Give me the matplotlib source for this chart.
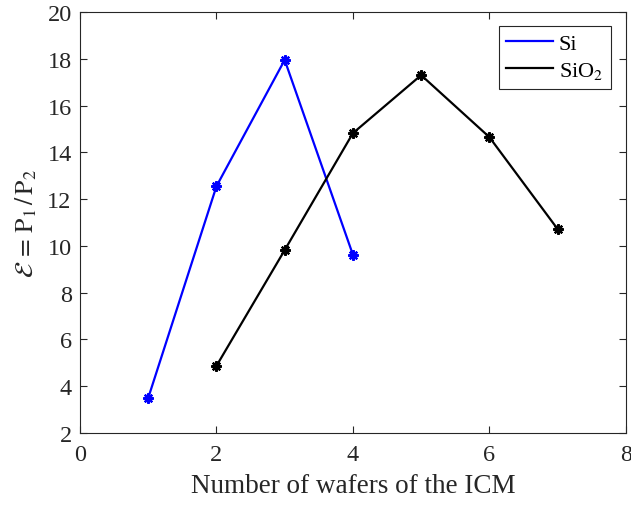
import matplotlib
matplotlib.use("Agg")
import matplotlib.pyplot as plt

# Enhancement ratio vs. number of wafers
si_wafers = [1, 2, 3, 4]
si_ratio = [3.5, 12.55, 17.95, 9.62]

sio2_wafers = [2, 3, 4, 5, 6, 7]
sio2_ratio = [4.87, 9.82, 14.82, 17.3, 14.65, 10.72]

x_ticks = [0, 2, 4, 6, 8]
y_ticks = [2, 4, 6, 8, 10, 12, 14, 16, 18, 20]

plt.rcParams["font.family"] = "Liberation Serif"
plt.rcParams["mathtext.fontset"] = "stix"

axis_color = "#262626"

fig = plt.figure(figsize=(6.31, 5.06), dpi=100)
ax = fig.add_axes([0.1268, 0.1423, 0.865, 0.832])

star = (8, 2, 0)
ax.plot(si_wafers, si_ratio, color="blue", lw=1.6, marker=star, ms=7.5,
        mew=1.6, label="Si")
ax.plot(sio2_wafers, sio2_ratio, color="black", lw=1.6, marker=star, ms=7.5,
        mew=1.6, label="SiO$_2$")

ax.set_xlim(0, 8)
ax.set_ylim(2, 20)
ax.set_xticks(x_ticks)
ax.set_yticks(y_ticks)

ax.tick_params(direction="in", top=True, right=True, length=5,
               width=0.8, colors=axis_color, labelsize=17.5, labelcolor=axis_color)
ax.tick_params(axis="x", pad=8)
ax.tick_params(axis="y", pad=6)
for sp in ax.spines.values():
    sp.set_color(axis_color)
    sp.set_linewidth(0.8)

ax.set_xlabel("Number of wafers of the ICM", fontsize=19.5, color=axis_color,
              labelpad=6)
ax.set_ylabel(r"$\mathcal{E}\,=\,\mathrm{P}_1\,/\,\mathrm{P}_2$", fontsize=18.5,
              color=axis_color, labelpad=6)

leg = ax.legend(loc="upper right", fontsize=16, frameon=True, fancybox=False,
                framealpha=1, edgecolor=axis_color, handlelength=2.1,
                handletextpad=0.25, borderpad=0.35, labelspacing=0.25,
                borderaxespad=0, bbox_to_anchor=(0.9725, 0.967))
for h in leg.get_lines():
    h.set_marker("")
leg.get_frame().set_linewidth(0.8)

fig.savefig("out.png", dpi=100)
